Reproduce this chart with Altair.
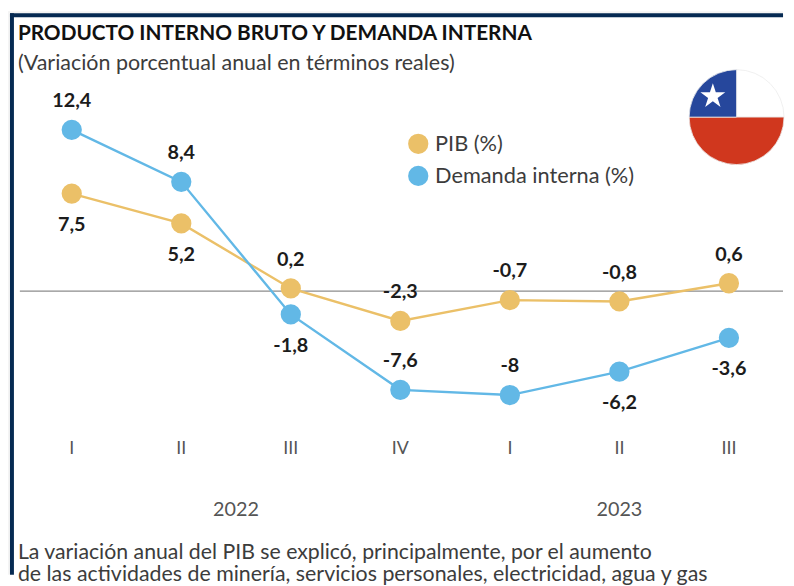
import altair as alt
import pandas as pd

quarters = ["I", "II", "III", "IV", "I", "II", "III"]
pib = [7.5, 5.2, 0.2, -2.3, -0.7, -0.8, 0.6]
demanda = [12.4, 8.4, -1.8, -7.6, -8, -6.2, -3.6]
pib_side = ["abajo", "abajo", "arriba", "arriba", "arriba", "arriba", "arriba"]
demanda_side = ["arriba", "arriba", "abajo", "arriba", "arriba", "abajo", "abajo"]
years = ["2022", "2023"]
year_pos = [1.5, 5]
S_PIB = "PIB (%)"
S_DEM = "Demanda interna (%)"
C_PIB = "#EBC068"
C_DEM = "#62B8E6"
FONT = "Lato"
TXT = "#3c3c3c"

def lab(v):
    return str(v).replace(".", ",")

rows = []
for i, q in enumerate(quarters):
    rows.append(dict(i=i, q=q, s=S_PIB, v=pib[i], side=pib_side[i], label=lab(pib[i])))
    rows.append(dict(i=i, q=q, s=S_DEM, v=demanda[i], side=demanda_side[i], label=lab(demanda[i])))
df = pd.DataFrame(rows)

W, H = 784, 570
xs = alt.Scale(domain=[-0.582, 6.494], nice=False, zero=False)
ys = alt.Scale(domain=[-21.83, 21.52], nice=False, zero=False)
X = alt.X("i:Q", scale=xs, axis=None)
Y = alt.Y("v:Q", scale=ys, axis=None)
cs = alt.Scale(domain=[S_PIB, S_DEM], range=[C_PIB, C_DEM])

base = alt.Chart(df)
one = alt.Chart(pd.DataFrame({"a": [0]}))

def box(x, x2, y, y2, color):
    return one.mark_rect(color=color).encode(
        x=alt.value(x), x2=alt.value(x2), y=alt.value(y), y2=alt.value(y2))

def text(t, x, y, size, weight="normal", color=TXT):
    return one.mark_text(text=t, align="left", baseline="middle", font=FONT,
                         fontSize=size, fontWeight=weight, color=color).encode(
        x=alt.value(x), y=alt.value(y))

frame = [
    box(0, W, 0, 2, "#f4f4f4"),
    box(0, 2, 0, H, "#f4f4f4"),
    box(2, W, 2, 6, "#062a52"),
    box(2, 6, 2, H, "#062a52"),
]

zero = alt.Chart(pd.DataFrame({"v": [0]})).mark_rule(color="#8c8c8c", strokeWidth=1.3).encode(
    y=Y, x=alt.value(12), x2=alt.value(784))

def line(series, color):
    return base.transform_filter(alt.datum.s == series).mark_line(strokeWidth=2.4, color=color).encode(x=X, y=Y)

points = base.mark_point(filled=True, opacity=1, size=420).encode(
    x=X, y=Y,
    color=alt.Color("s:N", scale=cs, sort=[S_PIB, S_DEM], legend=alt.Legend(
        orient="none", legendX=404, legendY=123, title=None,
        symbolSize=420, symbolOpacity=1, symbolType="circle", labelFont=FONT, labelFontSize=22,
        labelColor=TXT, labelOffset=6, rowPadding=10.5, labelLimit=320)))

def val_labels(side, dy):
    return base.transform_filter(alt.datum.side == side).mark_text(
        font=FONT, fontSize=20, fontWeight="bold", color="#1c1c1c", baseline="middle", dy=dy
    ).encode(x=X, y=Y, text="label:N")

q_labels = base.transform_filter(alt.datum.s == S_PIB).mark_text(
    font=FONT, fontSize=18, color="#555555", baseline="middle").encode(
    x=X, y=alt.value(443), text="q:N")

y_labels = alt.Chart(pd.DataFrame({"i": year_pos, "t": years})).mark_text(
    font=FONT, fontSize=20, color="#555555", baseline="middle").encode(
    x=X, y=alt.value(505), text="t:N")

def arc(t0, t1, color):
    return one.mark_arc(outerRadius=48, innerRadius=0, color=color, theta=t0, theta2=t1,
                        stroke="#ececec", strokeWidth=0.8).encode(
        x=alt.value(737), y=alt.value(107))

flag = [
    arc(0, 1.5708, "#ffffff"),
    arc(1.5708, 4.7124, "#D0371E"),
    arc(4.7124, 6.2832, "#26479C"),
]
star = one.mark_point(
    shape="M0,-1L0.2245,-0.309L0.951,-0.309L0.363,0.118L0.588,0.809L0,0.382L-0.588,0.809L-0.363,0.118L-0.951,-0.309L-0.2245,-0.309Z",
    filled=True, color="#ffffff", opacity=1, size=700).encode(x=alt.value(713), y=alt.value(86))

chart = alt.layer(
    *frame, zero, line(S_PIB, C_PIB), line(S_DEM, C_DEM), points,
    val_labels("arriba", -29), val_labels("abajo", 32),
    q_labels, y_labels, *flag, star,
    text("PRODUCTO INTERNO BRUTO Y DEMANDA INTERNA", 10, 23.5, 21, "bold", "#111111"),
    text("(Variación porcentual anual en términos reales)", 10, 52, 21.7),
    text("La variación anual del PIB se explicó, principalmente, por el aumento", 10, 548, 21.5),
    text("de las actividades de minería, servicios personales, electricidad, agua y gas", 10, 570, 21.6),
).properties(width=W, height=H, padding=0, background="white").configure_view(stroke=None)

chart.save("out.html", embed_options={"renderer": "svg", "actions": False})
